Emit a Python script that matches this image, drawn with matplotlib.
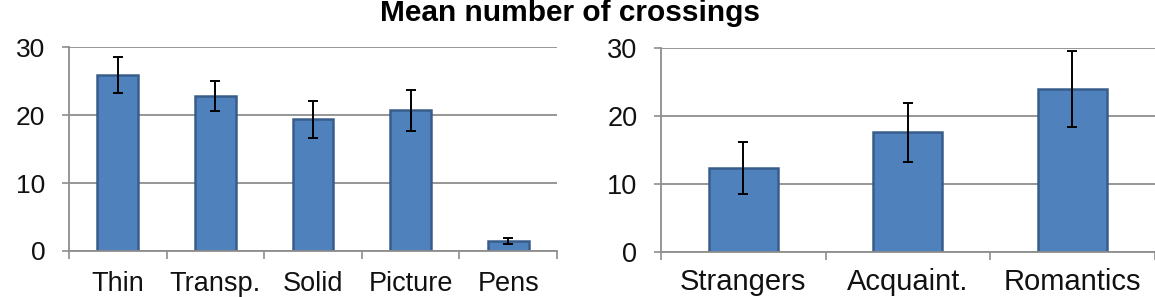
import numpy as np
import matplotlib
matplotlib.use("Agg")
import matplotlib.pyplot as plt
from matplotlib.ticker import FixedLocator

plt.rcParams["font.family"] = ["Liberation Sans", "DejaVu Sans"]

# left panel: display conditions
cond_labels = ["Thin", "Transp.", "Solid", "Picture", "Pens"]
cond_means = [25.9, 22.8, 19.4, 20.7, 1.5]
cond_err = [2.7, 2.25, 2.7, 3.0, 0.4]

# right panel: relationship of the pair
rel_labels = ["Strangers", "Acquaint.", "Romantics"]
rel_means = [12.3, 17.6, 24.0]
rel_err = [3.85, 4.3, 5.65]

yticks = [0, 10, 20, 30]

BAR = "#4F81BD"
EDGE = "#385D8A"
GRID = "#8e8e8e"
TEXT = "#111111"

W, H = 1155, 297
fig = plt.figure(figsize=(W / 100, H / 100), dpi=100)


def px_axes(x0, x1, ytop, ybot):
    return fig.add_axes([x0 / W, 1 - ybot / H, (x1 - x0) / W, (ybot - ytop) / H])


def draw_panel(ax, labels, means, err, xsize, ysize, xpad):
    x = np.arange(len(labels))
    ax.bar(x, means, width=0.42, color=BAR, edgecolor=EDGE, linewidth=1.8, zorder=2)
    ax.errorbar(x, means, yerr=err, fmt="none", ecolor="black", elinewidth=1.4,
                capsize=3.4, capthick=1.4, zorder=3)
    ax.set_xlim(-0.5, len(labels) - 0.5)
    ax.set_ylim(0, 30)
    ax.set_yticks(yticks)
    ax.set_xticks(x)
    ax.set_xticklabels(labels)
    ax.xaxis.set_minor_locator(FixedLocator(np.arange(len(labels) + 1) - 0.5))
    ax.tick_params(axis="x", which="major", length=0, pad=xpad, labelsize=xsize,
                   labelcolor=TEXT)
    ax.tick_params(axis="x", which="minor", length=6, width=1.2, color=GRID,
                   direction="out")
    ax.tick_params(axis="y", length=5, width=1.2, color=GRID, pad=12,
                   labelsize=ysize, labelcolor=TEXT)
    ax.yaxis.grid(True, color=GRID, linewidth=1.3, zorder=0)
    ax.set_axisbelow(True)
    for side in ["top", "right"]:
        ax.spines[side].set_visible(False)
    for side in ["left", "bottom"]:
        ax.spines[side].set_color(GRID)
        ax.spines[side].set_linewidth(1.3)


ax1 = px_axes(69, 557, 47.3, 251)
draw_panel(ax1, cond_labels, cond_means, cond_err, 19.5, 19, 14.5)

ax2 = px_axes(661, 1154.5, 48.3, 251.7)
draw_panel(ax2, rel_labels, rel_means, rel_err, 21, 19.5, 12)

fig.text(570 / W, 1 - 21 / H, "Mean number of crossings", ha="center",
         va="baseline", fontsize=21.5, fontweight="bold", color="black")

fig.savefig("out.png", dpi=100)
